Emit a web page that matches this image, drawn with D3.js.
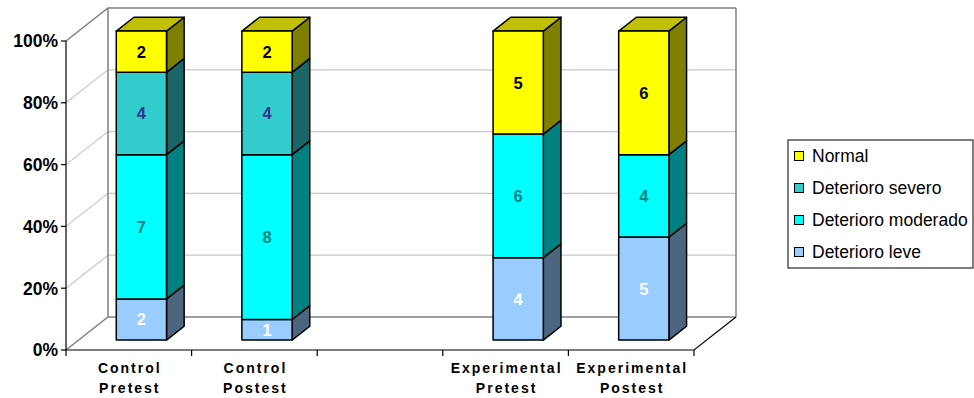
<!DOCTYPE html>
<html>
<head>
<meta charset="utf-8">
<script src="https://cdn.jsdelivr.net/npm/d3@7"></script>
<style>
  html, body { margin: 0; padding: 0; background: #fff; }
  svg { display: block; font-family: "Liberation Sans", Arial, sans-serif; }
</style>
</head>
<body>
<svg id="chart" width="974" height="398"></svg>
<script>
// Category groups (the empty one is a spacer between control and experimental groups)
const categories = ["Control Pretest", "Control Postest", "", "Experimental Pretest", "Experimental Postest"];

// Counts per category, stacked bottom to top
const seriesNames = ["Deterioro leve", "Deterioro moderado", "Deterioro severo", "Normal"];
const leve      = [2, 1, null, 4, 5];
const moderado  = [7, 8, null, 6, 4];
const severo    = [4, 4, null, 0, 0];
const normal    = [2, 2, null, 5, 6];

const yTickValues = [0, 0.2, 0.4, 0.6, 0.8, 1];

// Face colours: front, side, top; plus label colour
const palette = {
  "Deterioro leve":     { front: "#99CCFF", side: "#4D6680", top: "#7AA3CC", label: "#FFFFFF" },
  "Deterioro moderado": { front: "#00FFFF", side: "#008080", top: "#00CCCC", label: "#008080" },
  "Deterioro severo":   { front: "#33CCCC", side: "#1A6666", top: "#29A3A3", label: "#333399" },
  "Normal":             { front: "#FFFF00", side: "#808000", top: "#C0C000", label: "#000000" }
};

const seriesValues = [leve, moderado, severo, normal];

const svg = d3.select("#chart");

// Front plane scales
const x = d3.scaleBand().domain(d3.range(categories.length)).range([66, 694]).padding(0);
const y = d3.scaleLinear().domain([0, 1]).range([350, 41]);

// Oblique depth projection
const DX = 42, DY = 33;
const proj = (px, py, z) => [px + z * DX, py - z * DY];
const pts = arr => arr.map(p => p.join(",")).join(" ");

const x0 = x.range()[0], x1 = x.range()[1];

// ---- Walls and floor ----
const walls = svg.append("g");
// back wall gridlines
yTickValues.forEach(t => {
  const a = proj(x0, y(t), 0), b = proj(x0, y(t), 1), c = proj(x1, y(t), 1);
  const col = (t === 0 || t === 1) ? "#808080" : "#C8C8C8";
  walls.append("polyline")
    .attr("points", pts([a, b, c]))
    .attr("fill", "none")
    .attr("stroke", col)
    .attr("stroke-width", (t === 0 || t === 1) ? 1.5 : 1.2);
});
// back wall vertical edges
[[x0], [x1]].forEach(([xx]) => {
  const a = proj(xx, y(0), 1), b = proj(xx, y(1), 1);
  walls.append("line")
    .attr("x1", a[0]).attr("y1", a[1]).attr("x2", b[0]).attr("y2", b[1])
    .attr("stroke", "#808080").attr("stroke-width", 1.5);
});
// floor front edge and right diagonal
{
  const a = proj(x0, y(0), 0), b = proj(x1, y(0), 0), c = proj(x1, y(0), 1);
  walls.append("polyline")
    .attr("points", pts([a, b, c]))
    .attr("fill", "none").attr("stroke", "#000").attr("stroke-width", 1.2);
}
// value axis
walls.append("line")
  .attr("x1", x0).attr("x2", x0).attr("y1", y(0)).attr("y2", y(1))
  .attr("stroke", "#000").attr("stroke-width", 1.2);

yTickValues.forEach(t => {
  walls.append("line")
    .attr("x1", x0 - 5).attr("x2", x0).attr("y1", y(t)).attr("y2", y(t))
    .attr("stroke", "#000").attr("stroke-width", 1.2);
  walls.append("text")
    .attr("x", x0 - 8).attr("y", y(t))
    .attr("dy", "0.36em")
    .attr("text-anchor", "end")
    .attr("font-size", 17.5).attr("font-weight", "bold")
    .attr("fill", "#000")
    .text(d3.format(".0%")(t));
});

// category ticks
d3.range(categories.length + 1).forEach(i => {
  const xx = x0 + i * x.bandwidth();
  walls.append("line")
    .attr("x1", xx).attr("x2", xx).attr("y1", y(0)).attr("y2", y(0) + 6)
    .attr("stroke", "#000").attr("stroke-width", 1.2);
});

// category labels (two lines)
const LS = 2;
categories.forEach((c, i) => {
  if (!c) return;
  const parts = c.split(" ");
  const cx = x(i) + x.bandwidth() / 2 + LS / 2;
  parts.forEach((p, j) => {
    walls.append("text")
      .attr("x", cx).attr("y", 368 + j * 20)
      .attr("dy", "0.36em")
      .attr("text-anchor", "middle")
      .attr("font-size", 14).attr("font-weight", "bold")
      .attr("letter-spacing", LS)
      .attr("fill", "#000")
      .text(p);
  });
});

// ---- Bars ----
const z0 = 0.3, z1 = 0.72;
const bars = svg.append("g").attr("stroke", "#000").attr("stroke-width", 1.5).attr("stroke-linejoin", "round");

categories.forEach((c, i) => {
  if (!c) return;
  const total = d3.sum(seriesValues, s => s[i]);
  const bx0 = x(i) + x.bandwidth() * 0.3;
  const bx1 = x(i) + x.bandwidth() * 0.7;
  let cum = 0;
  const segs = [];
  seriesValues.forEach((s, k) => {
    const v = s[i];
    if (!v) return;
    segs.push({ name: seriesNames[k], v, lo: cum / total, hi: (cum + v) / total });
    cum += v;
  });
  segs.forEach((sg, k) => {
    const col = palette[sg.name];
    const yl = y(sg.lo), yh = y(sg.hi);
    // side face
    bars.append("polygon")
      .attr("points", pts([proj(bx1, yl, z0), proj(bx1, yl, z1), proj(bx1, yh, z1), proj(bx1, yh, z0)]))
      .attr("fill", col.side);
    // top face (only visible on the top segment)
    if (k === segs.length - 1) {
      bars.append("polygon")
        .attr("points", pts([proj(bx0, yh, z0), proj(bx1, yh, z0), proj(bx1, yh, z1), proj(bx0, yh, z1)]))
        .attr("fill", col.top);
    }
    // front face
    const fl = proj(bx0, yl, z0), fh = proj(bx1, yh, z0);
    bars.append("rect")
      .attr("x", fl[0]).attr("y", fh[1])
      .attr("width", fh[0] - fl[0]).attr("height", fl[1] - fh[1])
      .attr("fill", col.front);
    svg.append("text")
      .attr("x", (fl[0] + fh[0]) / 2).attr("y", (fl[1] + fh[1]) / 2)
      .attr("dy", "0.36em")
      .attr("text-anchor", "middle")
      .attr("font-size", 16.5).attr("font-weight", "bold")
      .attr("fill", col.label)
      .text(sg.v);
  });
});

// ---- Legend ----
const legend = svg.append("g");
legend.append("rect")
  .attr("x", 788).attr("y", 140).attr("width", 185).attr("height", 128)
  .attr("fill", "#fff").attr("stroke", "#000").attr("stroke-width", 1);
seriesNames.slice().reverse().forEach((n, i) => {
  const cy = 156 + i * 32;
  legend.append("rect")
    .attr("x", 794.5).attr("y", cy - 4.5).attr("width", 9).attr("height", 9)
    .attr("fill", palette[n].front).attr("stroke", "#000").attr("stroke-width", 1);
  legend.append("text")
    .attr("x", 812).attr("y", cy)
    .attr("dy", "0.36em")
    .attr("font-size", 17.5)
    .attr("fill", "#000")
    .text(n);
});
</script>
</body>
</html>
